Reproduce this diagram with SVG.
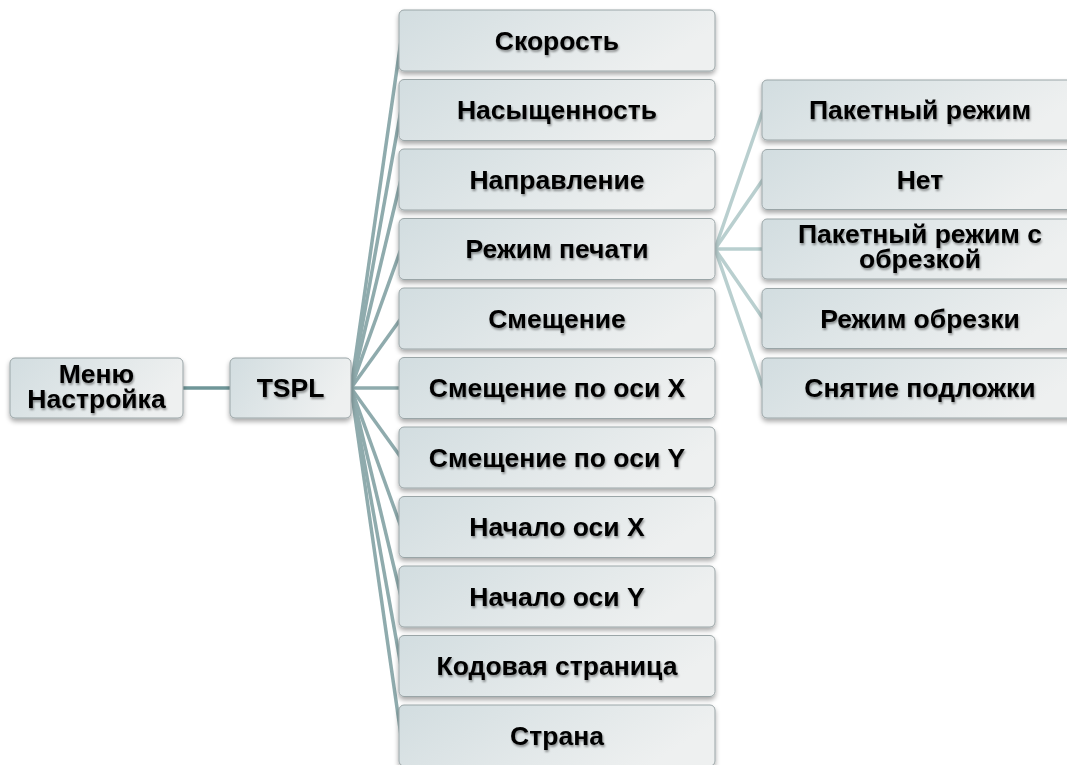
<svg xmlns="http://www.w3.org/2000/svg" width="1067" height="765" viewBox="0 0 1067 765">
<defs>
<linearGradient id="g" x1="0" y1="0" x2="1" y2="0.3">
<stop offset="0" stop-color="#d2dde0"/>
<stop offset="1" stop-color="#eef0f0"/>
</linearGradient>
<filter id="sh" x="-10%" y="-20%" width="120%" height="160%">
<feGaussianBlur in="SourceAlpha" stdDeviation="2.5"/>
<feOffset dx="0" dy="3" result="b"/>
<feComponentTransfer><feFuncA type="linear" slope="0.35"/></feComponentTransfer>
<feMerge><feMergeNode/><feMergeNode in="SourceGraphic"/></feMerge>
</filter>
<filter id="ts" x="-5%" y="-20%" width="110%" height="160%">
<feGaussianBlur in="SourceAlpha" stdDeviation="1.2"/>
<feOffset dx="1" dy="2"/>
<feComponentTransfer><feFuncA type="linear" slope="0.4"/></feComponentTransfer>
<feMerge><feMergeNode/><feMergeNode in="SourceGraphic"/></feMerge>
</filter>
</defs>
<style>
.box{fill:url(#g);stroke:#9aa5a7;stroke-width:1;filter:url(#sh)}
.t{font-family:"Liberation Sans",Arial,sans-serif;font-weight:bold;font-size:26.5px;fill:#000;text-anchor:middle;filter:url(#ts)}
.c1{stroke:#6f9698;stroke-width:3.5;fill:none}
.c2{stroke:#8fabad;stroke-width:3.5;fill:none}
.c3{stroke:#b9cfcf;stroke-width:3.5;fill:none}
</style>
<rect width="1067" height="765" fill="#fff"/>
<g id="connectors">
<line class="c1" x1="183" y1="388" x2="230" y2="388"/>
<line class="c2" x1="351" y1="388" x2="401" y2="40.5"/>
<line class="c2" x1="351" y1="388" x2="401" y2="110"/>
<line class="c2" x1="351" y1="388" x2="401" y2="179.5"/>
<line class="c2" x1="351" y1="388" x2="401" y2="249"/>
<line class="c2" x1="351" y1="388" x2="401" y2="318.5"/>
<line class="c2" x1="351" y1="388" x2="401" y2="388"/>
<line class="c2" x1="351" y1="388" x2="401" y2="457.5"/>
<line class="c2" x1="351" y1="388" x2="401" y2="527"/>
<line class="c2" x1="351" y1="388" x2="401" y2="596.5"/>
<line class="c2" x1="351" y1="388" x2="401" y2="666"/>
<line class="c2" x1="351" y1="388" x2="401" y2="735.5"/>
<line class="c3" x1="715" y1="249" x2="763" y2="110"/>
<line class="c3" x1="715" y1="249" x2="763" y2="179.5"/>
<line class="c3" x1="715" y1="249" x2="763" y2="249"/>
<line class="c3" x1="715" y1="249" x2="763" y2="318.5"/>
<line class="c3" x1="715" y1="249" x2="763" y2="388"/>
</g>
<g id="menu"><rect class="box" x="10" y="358" width="173" height="60" rx="5"/><text class="t" x="96.5" y="383">Меню</text><text class="t" x="96.5" y="408">Настройка</text></g>
<g id="tspl"><rect class="box" x="230" y="358" width="121" height="60" rx="5"/><text class="t" x="290.5" y="397">TSPL</text></g>
<g id="n1"><rect class="box" x="399" y="10" width="316" height="61" rx="5"/><text class="t" x="557" y="49.5">Скорость</text></g>
<g id="n2"><rect class="box" x="399" y="79.5" width="316" height="61" rx="5"/><text class="t" x="557" y="119">Насыщенность</text></g>
<g id="n3"><rect class="box" x="399" y="149" width="316" height="61" rx="5"/><text class="t" x="557" y="188.5">Направление</text></g>
<g id="n4"><rect class="box" x="399" y="218.5" width="316" height="61" rx="5"/><text class="t" x="557" y="258">Режим печати</text></g>
<g id="n5"><rect class="box" x="399" y="288" width="316" height="61" rx="5"/><text class="t" x="557" y="327.5">Смещение</text></g>
<g id="n6"><rect class="box" x="399" y="357.5" width="316" height="61" rx="5"/><text class="t" x="557" y="397">Смещение по оси X</text></g>
<g id="n7"><rect class="box" x="399" y="427" width="316" height="61" rx="5"/><text class="t" x="557" y="466.5">Смещение по оси Y</text></g>
<g id="n8"><rect class="box" x="399" y="496.5" width="316" height="61" rx="5"/><text class="t" x="557" y="536">Начало оси X</text></g>
<g id="n9"><rect class="box" x="399" y="566" width="316" height="61" rx="5"/><text class="t" x="557" y="605.5">Начало оси Y</text></g>
<g id="n10"><rect class="box" x="399" y="635.5" width="316" height="61" rx="5"/><text class="t" x="557" y="675">Кодовая страница</text></g>
<g id="n11"><rect class="box" x="399" y="705" width="316" height="61" rx="5"/><text class="t" x="557" y="744.5">Страна</text></g>
<g id="r1"><rect class="box" x="762" y="80" width="316" height="60" rx="5"/><text class="t" x="920" y="119">Пакетный режим</text></g>
<g id="r2"><rect class="box" x="762" y="149.5" width="316" height="60" rx="5"/><text class="t" x="920" y="188.5">Нет</text></g>
<g id="r3"><rect class="box" x="762" y="219" width="316" height="60" rx="5"/><text class="t" x="920" y="243">Пакетный режим с</text><text class="t" x="920" y="268">обрезкой</text></g>
<g id="r4"><rect class="box" x="762" y="288.5" width="316" height="60" rx="5"/><text class="t" x="920" y="327.5">Режим обрезки</text></g>
<g id="r5"><rect class="box" x="762" y="358" width="316" height="60" rx="5"/><text class="t" x="920" y="397">Снятие подложки</text></g>
</svg>
